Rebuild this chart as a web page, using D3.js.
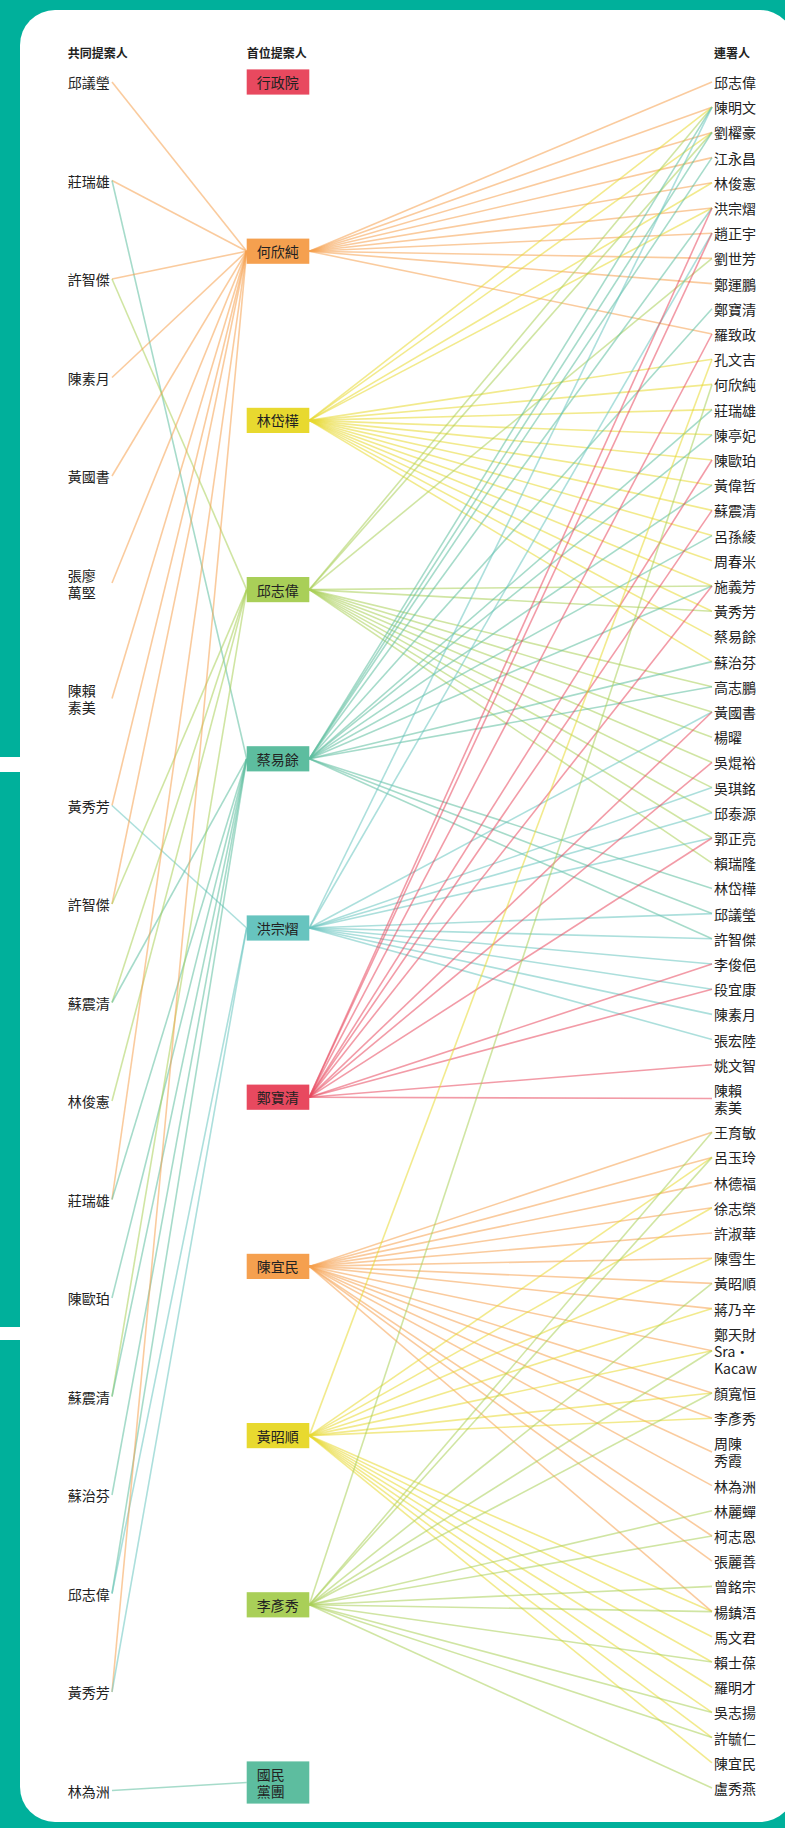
<!DOCTYPE html>
<html><head><meta charset="utf-8">
<script src="https://cdn.jsdelivr.net/npm/d3@7"></script>
<style>html,body{margin:0;padding:0;background:#00b09b;}svg{display:block;}</style>
</head><body><svg id="chart" width="785" height="1828"></svg>
<script>
// ---------- data ----------
const headers = ["共同提案人", "首位提案人", "連署人"];

const coProposers = ["邱議瑩","莊瑞雄","許智傑","陳素月","黃國書","張廖\n萬堅","陳賴\n素美","黃秀芳",
  "許智傑","蘇震清","林俊憲","莊瑞雄","陳歐珀","蘇震清","蘇治芬","邱志偉","黃秀芳","林為洲"];

const firstProposers = ["行政院","何欣純","林岱樺","邱志偉","蔡易餘","洪宗熠","鄭寶清","陳宜民","黃昭順","李彥秀","國民\n黨團"];
const proposerColors = ["#e8495f","#f5a04f","#e8d92f","#a9cf58","#5dbd9f","#67c4bf","#e8495f","#f5a04f","#e8d92f","#a9cf58","#5dbd9f"];

const cosigners = ["邱志偉","陳明文","劉櫂豪","江永昌","林俊憲","洪宗熠","趙正宇","劉世芳","鄭運鵬","鄭寶清",
  "羅致政","孔文吉","何欣純","莊瑞雄","陳亭妃","陳歐珀","黃偉哲","蘇震清","呂孫綾","周春米",
  "施義芳","黃秀芳","蔡易餘","蘇治芬","高志鵬","黃國書","楊曜","吳焜裕","吳琪銘","邱泰源",
  "郭正亮","賴瑞隆","林岱樺","邱議瑩","許智傑","李俊俋","段宜康","陳素月","張宏陸","姚文智",
  "陳賴\n素美","王育敏","呂玉玲","林德福","徐志榮","許淑華","陳雪生","黃昭順","蔣乃辛","鄭天財\nSra‧\nKacaw",
  "顏寬恒","李彥秀","周陳\n秀霞","林為洲","林麗蟬","柯志恩","張麗善","曾銘宗","楊鎮浯","馬文君",
  "賴士葆","羅明才","吳志揚","許毓仁","陳宜民","盧秀燕"];

// [co-proposer row, first-proposer row]
const coProposerLinks = [[0,1],[1,1],[1,4],[2,1],[2,3],[3,1],[4,1],[5,1],[6,1],[7,1],[7,5],
  [8,1],[8,3],[9,3],[9,4],[10,3],[11,1],[11,4],[12,4],[13,3],[13,4],[14,4],[15,4],[15,5],
  [16,1],[16,5],[17,10]];

const signersHe = ["邱志偉","陳明文","劉櫂豪","江永昌","林俊憲","洪宗熠","趙正宇","劉世芳","鄭運鵬","羅致政"];
const signersLinDai = ["陳明文","劉櫂豪","林俊憲","洪宗熠","孔文吉","何欣純","莊瑞雄","陳亭妃","陳歐珀","黃偉哲",
  "蘇震清","呂孫綾","周春米","施義芳","黃秀芳","蔡易餘","蘇治芬"];
const signersQiu = ["陳明文","劉櫂豪","劉世芳","施義芳","黃秀芳","高志鵬","黃國書","楊曜","吳焜裕","吳琪銘",
  "邱泰源","郭正亮","賴瑞隆"];
const signersCai = ["陳明文","劉櫂豪","江永昌","洪宗熠","鄭寶清","莊瑞雄","陳亭妃","黃偉哲","呂孫綾","施義芳",
  "蘇治芬","高志鵬","林岱樺","邱議瑩","許智傑"];
const signersHong = ["陳明文","趙正宇","黃國書","吳琪銘","邱泰源","郭正亮","邱議瑩","許智傑","李俊俋","段宜康",
  "陳素月","張宏陸"];
const signersZheng = ["洪宗熠","趙正宇","羅致政","陳歐珀","蘇震清","施義芳","黃國書","吳焜裕","郭正亮","李俊俋",
  "段宜康","姚文智","陳賴素美"];
const signersChenYi = ["王育敏","呂玉玲","林德福","徐志榮","許淑華","陳雪生","黃昭順","蔣乃辛","鄭天財Sra‧Kacaw","顏寬恒",
  "李彥秀","周陳秀霞","林為洲","柯志恩","張麗善","楊鎮浯"];
const signersHuang = ["孔文吉","呂玉玲","徐志榮","陳雪生","蔣乃辛","鄭天財Sra‧Kacaw","顏寬恒","李彥秀","楊鎮浯","馬文君",
  "賴士葆","羅明才","吳志揚","許毓仁","陳宜民"];
const signersLiYan = ["何欣純","王育敏","呂玉玲","黃昭順","鄭天財Sra‧Kacaw","顏寬恒","林麗蟬","柯志恩","曾銘宗","楊鎮浯",
  "賴士葆","吳志揚","許毓仁","盧秀燕"];

const signerLists = [[1,signersHe],[2,signersLinDai],[3,signersQiu],[4,signersCai],[5,signersHong],
  [6,signersZheng],[7,signersChenYi],[8,signersHuang],[9,signersLiYan]];

// ---------- layout ----------
const W = 785, H = 1828;
const LH = 17, FONT = '"Noto Sans CJK TC","Noto Sans CJK SC",sans-serif';
const svg = d3.select("#chart");

const lines = s => s.split("\n");
const key = s => s.replace(/\n/g, "");

// stacked units: one unit per row, plus a fraction for each extra text line
function stackUnits(list, gap) {
  let extra = 0;
  return list.map(s => { const u = list.indexOf(s) >= 0 ? 0 : 0; return 0; });
}
function units(list, ratio) {
  let extra = 0, out = [];
  list.forEach((s, i) => { out.push(i + extra * ratio); extra += lines(s).length - 1; });
  return out;
}
const leftU = units(coProposers, LH / 98.5);
const rightU = units(cosigners, LH / 25.2);

const xCol = d3.scaleOrdinal().domain(["left","mid","right"]).range([67.7, 246.7, 714]);
const yLeft = d3.scaleLinear().domain([0, leftU[leftU.length - 1]]).range([82, 1790.5]);
const yMid = d3.scalePoint().domain(d3.range(firstProposers.length)).range([82, 1774]);
const yRight = d3.scaleLinear().domain([0, rightU[rightU.length - 1]]).range([82, 1788]);

const boxW = 62.6, boxH = 25.2;
const leftAnchorX = xCol("left") + 44.3;
const rightAnchorX = xCol("right") - 2;

const leftY = i => yLeft(leftU[i]);
const leftLinkY = i => leftY(i) + (lines(coProposers[i]).length - 1) * LH / 2;
const midLinkY = j => yMid(j) + (lines(firstProposers[j]).length - 1) * LH / 2;
const rightIndex = new Map(cosigners.map((s, i) => [key(s), i]));
const rightY = i => yRight(rightU[i]);
const rightLinkY = i => rightY(i) + (lines(cosigners[i]).length - 1) * LH / 2;

// ---------- background card ----------
svg.append("rect").attr("width", W).attr("height", H).attr("fill", "#00b09b");
svg.append("rect").attr("x", 20).attr("y", 10).attr("width", 775).attr("height", 1812)
  .attr("rx", 35).attr("fill", "#fff");
svg.append("rect").attr("x", 0).attr("y", 757).attr("width", 22).attr("height", 15).attr("fill", "#fff");
svg.append("rect").attr("x", 0).attr("y", 1327).attr("width", 22).attr("height", 13).attr("fill", "#fff");

// ---------- links ----------
const line = d3.line();
const gLinks = svg.append("g").attr("fill", "none").attr("stroke-width", 1.6).attr("stroke-opacity", 0.55);

gLinks.selectAll("path.l").data(coProposerLinks).join("path")
  .attr("class", "l")
  .attr("stroke", d => proposerColors[d[1]])
  .attr("d", d => line([[leftAnchorX, leftLinkY(d[0])], [xCol("mid"), midLinkY(d[1])]]));

const rightLinks = [];
signerLists.forEach(([j, list]) => list.forEach(n => {
  if (rightIndex.has(n)) rightLinks.push([j, rightIndex.get(n)]);
}));
gLinks.selectAll("path.r").data(rightLinks).join("path")
  .attr("class", "r")
  .attr("stroke", d => proposerColors[d[0]])
  .attr("d", d => line([[xCol("mid") + boxW, midLinkY(d[0])], [rightAnchorX, rightLinkY(d[1])]]));

// ---------- headers ----------
svg.append("g").selectAll("text").data(headers).join("text")
  .attr("x", (d, i) => xCol(["left","mid","right"][i]))
  .attr("y", 52)
  .attr("dominant-baseline", "central")
  .attr("font-family", FONT).attr("font-size", 12).attr("font-weight", 700).attr("fill", "#222")
  .text(d => d);

function multiText(sel, x, y) {
  sel.each(function(d, i) {
    const t = d3.select(this);
    lines(d).forEach((s, k) => t.append("tspan").attr("x", x(d, i)).attr("y", y(d, i) + k * LH).text(s));
  });
}

// ---------- left labels ----------
svg.append("g").selectAll("text").data(coProposers).join("text")
  .attr("dominant-baseline", "central")
  .attr("font-family", FONT).attr("font-size", 14).attr("fill", "#222")
  .call(multiText, () => xCol("left"), (d, i) => leftY(i));

// ---------- middle boxes ----------
const gMid = svg.append("g").selectAll("g").data(firstProposers).join("g");
gMid.append("rect")
  .attr("x", xCol("mid"))
  .attr("y", (d, j) => yMid(j) - boxH / 2)
  .attr("width", boxW)
  .attr("height", d => boxH + (lines(d).length - 1) * LH)
  .attr("fill", (d, j) => proposerColors[j]);
gMid.append("text")
  .attr("dominant-baseline", "central")
  .attr("font-family", FONT).attr("font-size", 14).attr("fill", "#222")
  .call(multiText, () => xCol("mid") + 10, (d, j) => yMid(j));

// ---------- right labels ----------
svg.append("g").selectAll("text").data(cosigners).join("text")
  .attr("dominant-baseline", "central")
  .attr("font-family", FONT).attr("font-size", 14).attr("fill", "#222")
  .call(multiText, () => xCol("right"), (d, i) => rightY(i));
</script>
</body></html>
